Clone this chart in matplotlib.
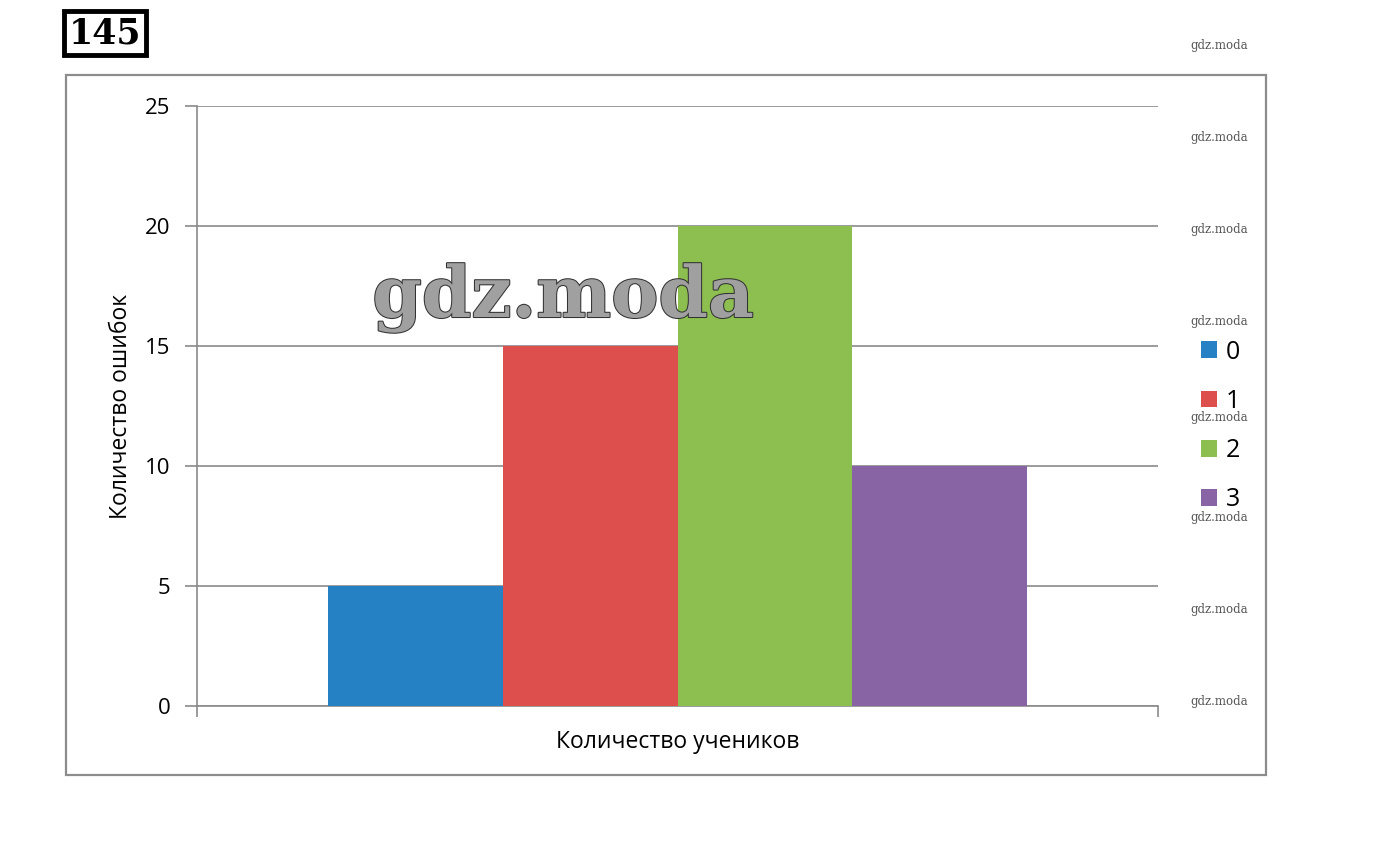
import matplotlib.pyplot as plt
from matplotlib.patches import Rectangle
import matplotlib.patheffects as pe

# data
series = ['0', '1', '2', '3']
values = [5, 15, 20, 10]
colors = ['#2581c4', '#dc4f4d', '#8dbf50', '#8964a4']
category = 'Количество учеников'

W, H = 1392, 842
fig = plt.figure(figsize=(W / 100, H / 100), dpi=100)
fig.patch.set_facecolor('white')

def fx(px):
    return px / W

def fy(py):
    return 1 - py / H

plt.rcParams['font.family'] = ['Open Sans', 'DejaVu Sans']

# outer chart frame
fig.patches.append(Rectangle((fx(66), fy(775)), fx(1266) - fx(66), fy(75) - fy(775),
                             transform=fig.transFigure, fill=False,
                             edgecolor='#8c8c8c', linewidth=1.6))

ax = fig.add_axes([fx(197), fy(706), fx(1158) - fx(197), fy(106) - fy(706)])

# one category, four series, gap width 150%
bw = 1 / 5.5
start = 0.75 * bw
for i, (name, v, c) in enumerate(zip(series, values, colors)):
    ax.bar(start + bw * (i + 0.5), v, width=bw, color=c, label=name, zorder=3)

ax.set_xlim(0, 1)
ax.set_ylim(0, 25)
ax.set_yticks([0, 5, 10, 15, 20, 25])
ax.set_xticks([0, 1])
ax.set_xticklabels(['', ''])
ax.grid(axis='y', color='#8a8a8a', linewidth=1.2, zorder=0)
for s in ['top', 'right']:
    ax.spines[s].set_visible(False)
for s in ['left', 'bottom']:
    ax.spines[s].set_color('#8a8a8a')
    ax.spines[s].set_linewidth(1.2)
ax.tick_params(axis='y', length=9, width=1.2, color='#8a8a8a', labelsize=16, pad=10)
ax.tick_params(axis='x', length=8, width=1.2, color='#8a8a8a')

ax.set_ylabel('Количество ошибок', fontsize=16.5, labelpad=9)
ax.set_xlabel(category, fontsize=16.5, labelpad=6)

leg = ax.legend(loc='upper left', bbox_to_anchor=(fx(1188), fy(327)),
                bbox_transform=fig.transFigure, frameon=False, fontsize=18,
                handlelength=0.65, handleheight=0.65, handletextpad=0.35,
                labelspacing=0.97, borderpad=0)

# task number box
fig.text(fx(105), fy(33), '145', fontsize=25, fontweight='bold', family='DejaVu Serif',
         ha='center', va='center',
         bbox=dict(boxstyle='square,pad=0.15', facecolor='white', edgecolor='black', linewidth=3.5))

# watermarks
for y in [46, 138, 230, 322, 418, 518, 610, 702]:
    fig.text(fx(1219), fy(y), 'gdz.moda', fontsize=8.5, family='DejaVu Serif',
             color='#555555', ha='center', va='center')
fig.text(fx(563), fy(298), 'gdz.moda', fontsize=51, fontweight='bold',
         family='DejaVu Serif', color='#a0a0a0', ha='center', va='center', zorder=10,
         path_effects=[pe.withStroke(linewidth=1.5, foreground='#333333')])

fig.savefig('out.png', dpi=100, facecolor='white')
